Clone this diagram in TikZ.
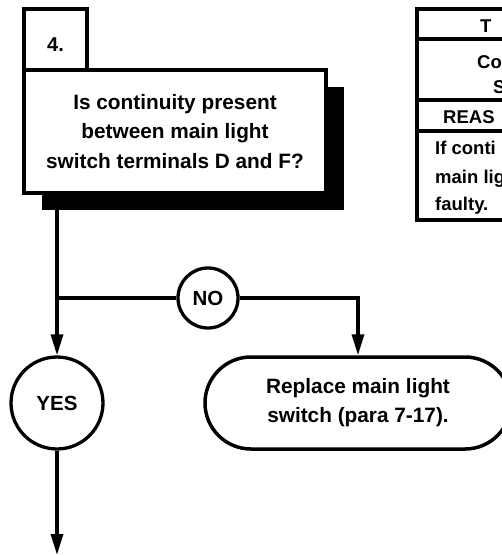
\documentclass[tikz,border=0pt]{standalone}
\usepackage{fontspec}
\setmainfont{Liberation Sans}
\usetikzlibrary{arrows.meta,positioning,shapes.misc,shadows}
\tikzset{
  >={Triangle[length=21pt,width=12pt]},
  link/.style={line width=3.3pt},
  flow/.style={->,line width=3.3pt},
  numbox/.style={draw,line width=3.5pt,fill=white,minimum width=63pt,minimum height=61pt,
    inner sep=0pt,text height=25pt,text depth=0pt,font=\fontsize{20}{24}\selectfont\bfseries},
  askbox/.style={draw,line width=3.5pt,fill=white,minimum width=302pt,minimum height=123pt,
    inner sep=0pt,align=center,font=\fontsize{20.8}{29.5}\selectfont\bfseries,
    drop shadow={shadow xshift=18pt,shadow yshift=-17pt,opacity=1,fill=black}},
  answer/.style={circle,draw,line width=3.3pt,fill=white,inner sep=0pt,
    font=\fontsize{20.5}{24}\selectfont\bfseries},
  action/.style={rounded rectangle,draw,line width=3.5pt,fill=white,minimum width=306pt,
    minimum height=92pt,inner sep=0pt,align=center,font=\fontsize{20.8}{29}\selectfont\bfseries},
  cell/.style={inner sep=0pt,anchor=base west,font=\fontsize{18.5}{22}\selectfont\bfseries},
  rule/.style={line width=4pt},
}

\begin{document}
\begin{tikzpicture}[x=1pt,y=-1pt]
  \useasboundingbox (0,0) rectangle (502,556);
  \clip (0,0) rectangle (502,556);

  % step 4 question
  \node[askbox] (quest) at (175,131.5) {Is continuity present\\between main light\\switch terminals D and F?};
  \node[numbox] (num) at (55.5,39.5) {4.};

  % answers
  \node[answer,minimum size=60pt] (no) at (208,298) {NO};
  \node[answer,minimum size=92pt] (yes) at (57,403) {YES};
  \node[action] (replace) at (358,403) {Replace main light\\switch (para 7-17).};

  \coordinate (drop) at (57,210);
  \coordinate (split) at (57,298);
  \coordinate (out) at (57,555);

  \draw[link] (drop) -- (split);
  \draw[flow] (split) -- (yes);
  \draw[link] (split) -- (no);
  \draw[flow] (no) -| (replace);
  \draw[flow] (yes) -- (out);

  % test table (cut off at the right)
  \draw[rule] (417,9) rectangle (560,220);
  \draw[rule] (417,39) -- (560,39);
  \draw[rule] (417,100) -- (560,100);
  \draw[rule] (417,131) -- (560,131);
  \node[cell] (t1) at (480,33) {T};
  \node[cell] (t2) at (477,69) {Co};
  \node[cell] (t3) at (493,94) {S};
  \node[cell] (t4) at (443,124) {REAS};
  \node[cell] (t5) at (435,155) {If conti};
  \node[cell] (t6) at (435,183) {main lig};
  \node[cell] (t7) at (435,210) {faulty.};
\end{tikzpicture}
\end{document}
